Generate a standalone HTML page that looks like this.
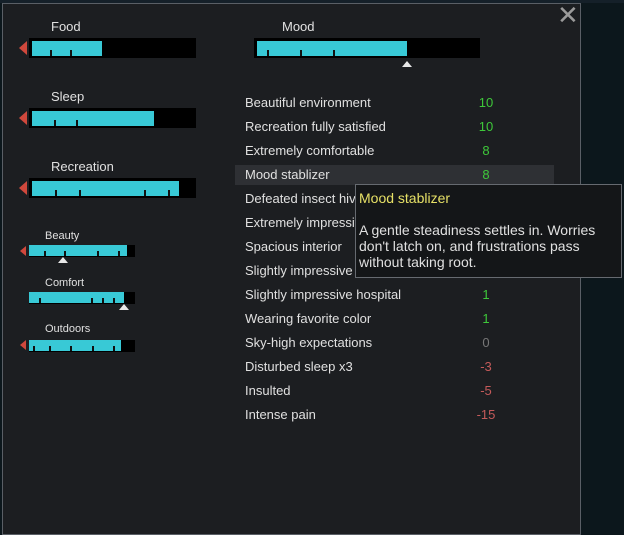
<!DOCTYPE html>
<html><head><meta charset="utf-8"><style>
body{margin:0;width:624px;height:518px;background:#0c171c;position:relative;overflow:hidden;font-family:"Liberation Sans",sans-serif;}
.a{position:absolute}
#panel{left:2px;top:3px;width:577px;height:530px;background:#1c1e21;border:1px solid #5a5f66;}
.lbl{color:#e0e0e0;font-size:13px;}
.sm{color:#e0e0e0;font-size:11px;}
.bk{background:#000}
.f{background:#38c9d6}
.t{background:#111;width:2px}
.ar{width:0;height:0;border-top:7px solid transparent;border-bottom:7px solid transparent;border-right:8px solid #d0483c}
.ars{width:0;height:0;border-top:5px solid transparent;border-bottom:5px solid transparent;border-right:6px solid #d0483c}
.tri{width:0;height:0;border-left:5px solid transparent;border-right:5px solid transparent;border-bottom:6px solid #e8e8e8}
.row{position:absolute;left:245px;font-size:13px;color:#e0e0e0;}
.v{position:absolute;width:40px;left:466px;text-align:center;font-size:13px}
.g{color:#3ec83a}.r{color:#c45a5a}.z{color:#777}
</style></head><body>
<div class="a" style="left:0;top:0;width:624px;height:3px;background:#152029"></div>
<div class="a" id="panel"></div>
<div class="a" style="left:557px;top:2px;font-size:26px;color:#9a9a9a;line-height:26px">✕</div>

<div class="a lbl" style="left:51px;top:19px">Food</div>
<div class="a ar" style="left:19px;top:41px"></div>
<div class="a bk" style="left:29px;top:38px;width:167px;height:20px"></div>
<div class="a f" style="left:32px;top:41px;width:70px;height:15px"></div>
<div class="a t" style="left:50px;top:50px;height:6px"></div><div class="a t" style="left:70px;top:50px;height:6px"></div>

<div class="a lbl" style="left:51px;top:89px">Sleep</div>
<div class="a ar" style="left:19px;top:111px"></div>
<div class="a bk" style="left:29px;top:108px;width:167px;height:20px"></div>
<div class="a f" style="left:32px;top:111px;width:122px;height:15px"></div>
<div class="a t" style="left:54px;top:120px;height:6px"></div><div class="a t" style="left:76px;top:120px;height:6px"></div>

<div class="a lbl" style="left:51px;top:159px">Recreation</div>
<div class="a ar" style="left:19px;top:181px"></div>
<div class="a bk" style="left:29px;top:178px;width:167px;height:20px"></div>
<div class="a f" style="left:32px;top:181px;width:147px;height:15px"></div>
<div class="a t" style="left:55px;top:190px;height:6px"></div><div class="a t" style="left:79px;top:190px;height:6px"></div><div class="a t" style="left:144px;top:190px;height:6px"></div><div class="a t" style="left:168px;top:190px;height:6px"></div>

<div class="a sm" style="left:45px;top:230px">Beauty</div>
<div class="a ars" style="left:20px;top:246px"></div>
<div class="a bk" style="left:29px;top:245px;width:106px;height:12px"></div>
<div class="a f" style="left:29px;top:245px;width:98px;height:11px"></div>
<div class="a t" style="left:44px;top:251px;height:5px"></div><div class="a t" style="left:64px;top:251px;height:5px"></div><div class="a t" style="left:97px;top:251px;height:5px"></div><div class="a t" style="left:118px;top:251px;height:5px"></div>
<div class="a tri" style="left:58px;top:257px"></div>

<div class="a sm" style="left:45px;top:277px">Comfort</div>
<div class="a bk" style="left:29px;top:292px;width:106px;height:12px"></div>
<div class="a f" style="left:29px;top:292px;width:95px;height:11px"></div>
<div class="a t" style="left:39px;top:298px;height:5px"></div><div class="a t" style="left:91px;top:298px;height:5px"></div><div class="a t" style="left:102px;top:298px;height:5px"></div><div class="a t" style="left:113px;top:298px;height:5px"></div>
<div class="a tri" style="left:119px;top:304px"></div>

<div class="a sm" style="left:45px;top:323px">Outdoors</div>
<div class="a ars" style="left:20px;top:340px"></div>
<div class="a bk" style="left:29px;top:340px;width:106px;height:12px"></div>
<div class="a f" style="left:29px;top:340px;width:92px;height:11px"></div>
<div class="a t" style="left:33px;top:346px;height:5px"></div><div class="a t" style="left:49px;top:346px;height:5px"></div><div class="a t" style="left:70px;top:346px;height:5px"></div><div class="a t" style="left:92px;top:346px;height:5px"></div><div class="a t" style="left:113px;top:346px;height:5px"></div>

<div class="a lbl" style="left:282px;top:19px">Mood</div>
<div class="a bk" style="left:254px;top:38px;width:226px;height:20px"></div>
<div class="a f" style="left:257px;top:41px;width:150px;height:15px"></div>
<div class="a t" style="left:267px;top:50px;height:6px"></div><div class="a t" style="left:300px;top:50px;height:6px"></div><div class="a t" style="left:333px;top:50px;height:6px"></div>
<div class="a tri" style="left:402px;top:61px"></div>

<div class="a" style="left:235px;top:165px;width:319px;height:20px;background:#2e3034"></div>

<div class="row" style="top:95px">Beautiful environment</div><div class="v g" style="top:95px">10</div>
<div class="row" style="top:119px">Recreation fully satisfied</div><div class="v g" style="top:119px">10</div>
<div class="row" style="top:143px">Extremely comfortable</div><div class="v g" style="top:143px">8</div>
<div class="row" style="top:167px">Mood stablizer</div><div class="v g" style="top:167px">8</div>
<div class="row" style="top:191px">Defeated insect hive</div>
<div class="row" style="top:215px">Extremely impressive</div>
<div class="row" style="top:239px">Spacious interior</div>
<div class="row" style="top:263px">Slightly impressive room</div>
<div class="row" style="top:287px">Slightly impressive hospital</div><div class="v g" style="top:287px">1</div>
<div class="row" style="top:311px">Wearing favorite color</div><div class="v g" style="top:311px">1</div>
<div class="row" style="top:335px">Sky-high expectations</div><div class="v z" style="top:335px">0</div>
<div class="row" style="top:359px">Disturbed sleep x3</div><div class="v r" style="top:359px">-3</div>
<div class="row" style="top:383px">Insulted</div><div class="v r" style="top:383px">-5</div>
<div class="row" style="top:407px">Intense pain</div><div class="v r" style="top:407px">-15</div>

<div class="a" style="left:355px;top:184px;width:265px;height:92px;background:#141618;border:1px solid #666a70"></div>
<div class="a" style="left:359px;top:190px;font-size:14px;color:#e6e066">Mood stablizer</div>
<div class="a" style="left:359px;top:222px;width:256px;font-size:14px;line-height:16px;color:#e0e0e0">A gentle steadiness settles in. Worries don't latch on, and frustrations pass without taking root.</div>
</body></html>
